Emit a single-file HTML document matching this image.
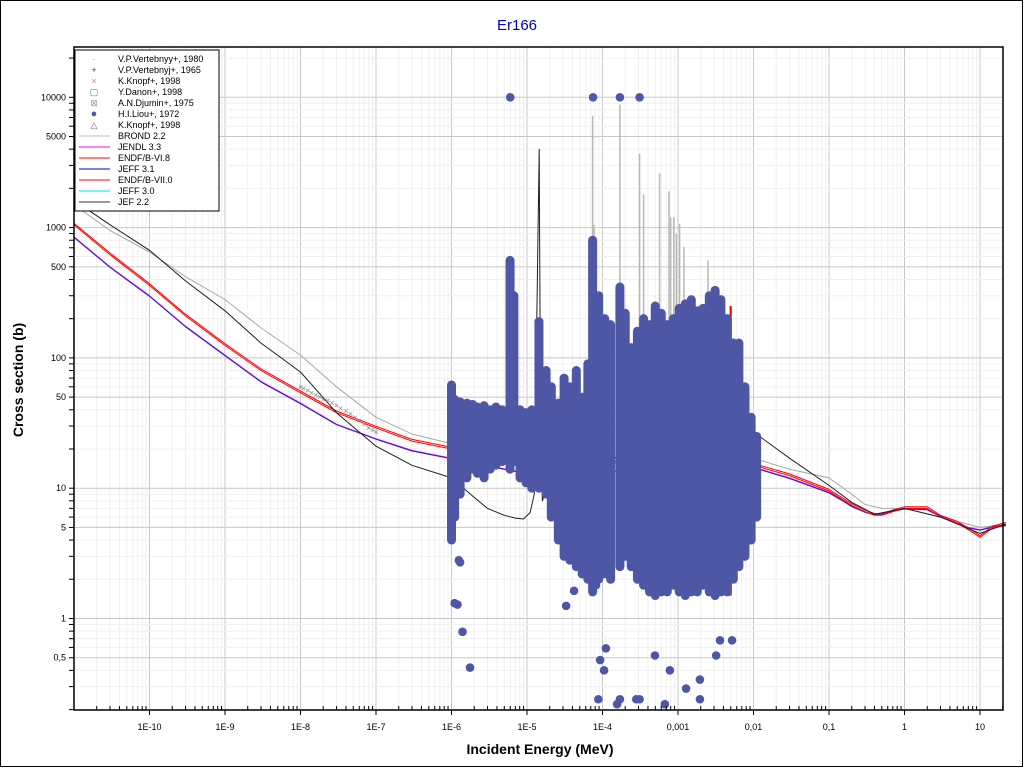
<!DOCTYPE html>
<html><head><meta charset="utf-8"><style>
html,body{margin:0;padding:0;background:#fff}
svg{display:block;font-family:"Liberation Sans",sans-serif}
</style></head><body>
<svg id="c" width="1024" height="768" viewBox="0 0 1024 768">
<rect x="0.5" y="0.5" width="1022" height="766" fill="#fff" stroke="#000"/>
<text x="517" y="30" text-anchor="middle" font-size="15" fill="#0000c8">Er166</text>
<text x="540" y="754" text-anchor="middle" font-size="14" font-weight="bold">Incident Energy (MeV)</text>
<text transform="translate(23,380) rotate(-90)" text-anchor="middle" font-size="14" font-weight="bold">Cross section (b)</text>
<g id="grid"></g><g id="curves"></g><g id="exp"></g><g id="axes"></g><g id="legend"></g>
</svg>
<script>
// ---- data ----
const xTickValues=[1e-10,1e-9,1e-8,1e-7,1e-6,1e-5,1e-4,1e-3,1e-2,1e-1,1,10];
const xTickLabels=["1E-10","1E-9","1E-8","1E-7","1E-6","1E-5","1E-4","0,001","0,01","0,1","1","10"];
const yTickValues=[10000,5000,1000,500,100,50,10,5,1,0.5];
const yTickLabels=["10000","5000","1000","500","100","50","10","5","1","0,5"];
const brondE=[1e-11,3e-11,1e-10,3e-10,1e-9,3e-9,1e-8,3e-8,1e-7,3e-7,1e-6,1e-5,1e-2,0.03,0.1,0.2,0.3,0.5,1,3,10,22];
const brondS=[1500,950,650,420,280,170,105,60,35,26,22,17,17,14,12,9,7.5,7,7,6,5,5.3];
const jendlE=[1e-11,3e-11,1e-10,3e-10,1e-9,3e-9,1e-8,3e-8,1e-7,3e-7,1e-6,1e-5,1e-2,0.03,0.1,0.15,0.2,0.3,0.4,0.5,0.7,1,2,3,5,7,10,15,22];
const jendlS=[850,500,300,175,105,66,45,31,24,19.5,17,13,14.5,12,9.3,8.1,7.3,6.6,6.3,6.3,6.7,7,6.9,6.1,5.4,5,4.8,5.1,5.2];
const endf68E=[1e-11,3e-11,1e-10,3e-10,1e-9,3e-9,1e-8,3e-8,1e-7,3e-7,1e-6,1e-5,1e-2,0.03,0.1,0.15,0.2,0.3,0.4,0.5,0.7,1,2,3,5,7,10,15,22];
const endf68S=[1050,620,360,210,125,80,54,38,29,23,20,16,15,12.5,9.5,8.2,7.4,6.6,6.2,6.2,6.6,7,7,6,5.4,4.8,4.2,5,5.3];
const jef22E=[1e-11,3e-11,1e-10,3e-10,1e-9,3e-9,1e-8,3e-8,1e-7,3e-7,1e-6,2e-6,3e-6,5e-6,7e-6,9e-6,1.1e-5,1.25e-5,1.45e-5,1.52e-5,1.6e-5,1.8e-5,2.2e-5,1e-2,0.03,0.1,0.2,0.4,1,3,10,22];
const jef22S=[1620,1050,670,390,230,130,78,38,21,15,12,8.5,7,6.2,5.9,5.8,6.5,9,4000,20,8,10,14,27,17,10.5,7.8,6.3,7,6,4.5,5.3];
const spikeE=[7.4e-5,7.7e-5,1.7e-4,3.1e-4,3.5e-4,5.7e-4,7.6e-4,8.0e-4,8.8e-4,9.5e-4,1.05e-3,1.2e-3,2.5e-3,4.9e-3];
const spikeS=[7200,1050,8800,3700,1800,2600,1900,1200,1200,900,1070,710,560,250];
const vertE=[1e-8,1.1e-8,1.25e-8,1.4e-8,1.6e-8,1.8e-8,2e-8,2.3e-8,2.6e-8,3e-8,3.4e-8,4e-8,4.6e-8,5.3e-8,6e-8,7e-8,8e-8,9e-8,1e-7];
const vertS=[60,58,56,54,52,50,48,47,45,43,41,39,37,35,33,31,29,28,27];
const colE=[1e-6,1.1e-6,1.3e-6,1.6e-6,1.9e-6,2.2e-6,2.7e-6,3.24e-6,3.88e-6,4.68e-6,5.96e-6,6.7e-6,8.1e-6,9.7e-6,1.16e-5,1.44e-5,1.79e-5,2.1e-5,2.6e-5,3.1e-5,3.7e-5,4.5e-5,5.4e-5,6.4e-5,7.4e-5,8.9e-5,1.07e-4,1.28e-4,1.7e-4,2.0e-4,2.4e-4,2.9e-4,3.5e-4,4.2e-4,5.0e-4,6.0e-4,7.2e-4,8.7e-4,1.04e-3,1.25e-3,1.5e-3,1.8e-3,2.15e-3,2.6e-3,3.1e-3,3.7e-3,4.5e-3,5.4e-3,6.4e-3,7.7e-3,9.3e-3,1.1e-2];
const colMax=[62,48,46,45,44,42,43,40,42,40,560,300,40,38,40,190,80,60,45,70,60,80,50,90,800,300,200,180,350,220,120,160,200,180,250,220,180,200,240,260,280,230,240,300,330,280,200,130,130,60,35,25];
const colMin=[4,6,9,12,14,13,12,14,15,16,14,16,12,11,10,10,9,6,4,3,2.8,2.5,2.2,2,1.6,2,2.2,2,2.5,3,2.5,2,1.8,1.6,1.5,1.6,1.6,1.8,1.6,1.5,1.6,1.6,1.8,1.6,1.5,1.6,1.6,2,2.5,3,4,6];
const ptE=[6.0e-6,7.5e-5,1.7e-4,3.1e-4,1.1e-6,1.2e-6,1.4e-6,1.76e-6,1.25e-6,1.3e-6,3.3e-5,4.2e-5,5.35e-5,8.2e-5,1.11e-4,9.3e-5,1.05e-4,1.7e-4,3.1e-4,4.95e-4,7.8e-4,1.28e-3,1.95e-3,3.2e-3,3.6e-3,5.2e-3,8.8e-5,1.56e-4,2.8e-4,6.7e-4,1.95e-3];
const ptS=[10000,10000,10000,10000,1.31,1.28,0.79,0.42,2.8,2.7,1.25,1.63,2.2,1.8,0.59,0.48,0.4,0.24,0.24,0.52,0.4,0.29,0.34,0.52,0.68,0.68,0.24,0.22,0.24,0.22,0.24];

// ---- axes ----
const L=74,R=1003,T=47,B=710;
const X=e=>149.5+75.5*(Math.log10(e)+10);
const Y=s=>618.5-130.3*Math.log10(s);
const NS="http://www.w3.org/2000/svg";
function mk(tag,parent,attrs){const el=document.createElementNS(NS,tag);for(const k in attrs)el.setAttribute(k,attrs[k]);parent.appendChild(el);return el;}
const grid=document.getElementById('grid'),axes=document.getElementById('axes'),curves=document.getElementById('curves'),exp=document.getElementById('exp'),leg=document.getElementById('legend');
for(let d=-11;d<=1;d++)for(let m=1;m<=9;m++){const x=X(m*Math.pow(10,d));if(x<=L||x>=R)continue;
 const l=mk('line',grid,{x1:x,x2:x,y1:T,y2:B,stroke:m==1?'#c8c8c8':'#f0f0f0','stroke-width':1});
 
 
 mk('line',axes,{x1:x,x2:x,y1:m==1?B:B-4,y2:m==1?B+5:B,stroke:'#000'});}
for(let d=-1;d<=4;d++)for(let m=1;m<=9;m++){const y=Y(m*Math.pow(10,d));if(y<=T||y>=B)continue;
 const l=mk('line',grid,{x1:L,x2:R,y1:y,y2:y,stroke:(m==1||m==5)?'#c8c8c8':'#f0f0f0','stroke-width':1});
 
 
 mk('line',axes,{x1:L-5,x2:L,y1:y,y2:y,stroke:'#000'});}
mk('rect',axes,{x:L,y:T,width:R-L,height:B-T,fill:'none',stroke:'#000','stroke-width':1.5});
xTickValues.forEach((v,i)=>{const t=mk('text',axes,{x:X(v),y:B+20,'text-anchor':'middle','font-size':9});t.textContent=xTickLabels[i];
 
 });
yTickValues.forEach((v,i)=>{const t=mk('text',axes,{x:L-8,y:Y(v)+3,'text-anchor':'end','font-size':9});t.textContent=yTickLabels[i];
 
 });

// ---- curves ----
function poly(E,S,color,name,w){const pts=E.map((e,i)=>X(e).toFixed(1)+','+Y(S[i]).toFixed(1)).join(' ');
 const p=mk('polyline',curves,{points:pts,fill:'none',stroke:color,'stroke-width':w||1,'stroke-linejoin':'round'});
 
 }
spikeE.forEach((e,i)=>{const l=mk('line',curves,{x1:X(e),x2:X(e),y1:Y(15),y2:Y(spikeS[i]),stroke:'#b8b8b8','stroke-width':1.5});
 
 });
poly(brondE,brondS,'#a8a8a8','brond-2-2-curve');
poly(jendlE,jendlS,'#ff00ff','jendl-3-3-curve');
poly(jendlE,jendlS.map(s=>s*0.99),'#2020d0','jeff-3-1-curve');
poly(endf68E,endf68S,'#ff0000','endf-b-vi-8-curve');
poly(endf68E,endf68S.map(s=>s*1.03),'#ff0000','endf-b-vii-0-curve');
poly(jef22E,jef22S,'#202020','jef-2-2-curve');
const rs=mk('line',curves,{x1:X(5.0e-3),x2:X(5.0e-3),y1:Y(250),y2:Y(1.5),stroke:'#ff0000','stroke-width':2});



// ---- experimental ----
vertE.forEach((e,i)=>{const t=mk('text',exp,{x:X(e),y:Y(vertS[i])+3,'text-anchor':'middle','font-size':9,fill:'#888'});t.textContent='×';
 
 });
colE.forEach((e,i)=>{const l=mk('line',exp,{x1:X(e),x2:X(e),y1:Y(colMax[i]),y2:Y(colMin[i]),stroke:'#4e57a6','stroke-width':9,'stroke-linecap':'round'});
 
 });
ptE.forEach((e,i)=>{const c=mk('circle',exp,{cx:X(e),cy:Y(ptS[i]),r:4.3,fill:'#4e57a6'});
 
 });

// ---- legend ----
const lr=mk('rect',leg,{x:75,y:50,width:144,height:161,fill:'#fff',stroke:'#000'});


const legNames=["V.P.Vertebnyy+, 1980","V.P.Vertebnyj+, 1965","K.Knopf+, 1998","Y.Danon+, 1998","A.N.Djumin+, 1975","H.I.Liou+, 1972","K.Knopf+, 1998","BROND 2.2","JENDL 3.3","ENDF/B-VI.8","JEFF 3.1","ENDF/B-VII.0","JEFF 3.0","JEF 2.2"];
const legSym=["·","+","×","▢","⊠","●","△"];
const legSymCol=["#999","#447","#b8a","#393","#999","#4e57a6","#a47"];
const legLine=["#bbb","#ff00ff","#ff0000","#0000c8","#ff0000","#00e0e0","#333"];
legNames.forEach((n,i)=>{const y=59+i*11;
 if(i<7){const s=mk('text',leg,{x:94,y:y+3,'text-anchor':'middle','font-size':i==5?11:9,fill:legSymCol[i]});s.textContent=legSym[i];
  
  }
 else{const s=mk('line',leg,{x1:79,x2:110,y1:y,y2:y,stroke:legLine[i-7]});
  
  }
 const t=mk('text',leg,{x:118,y:y+3,'font-size':9});t.textContent=n;
 
 });
</script>
</body></html>
